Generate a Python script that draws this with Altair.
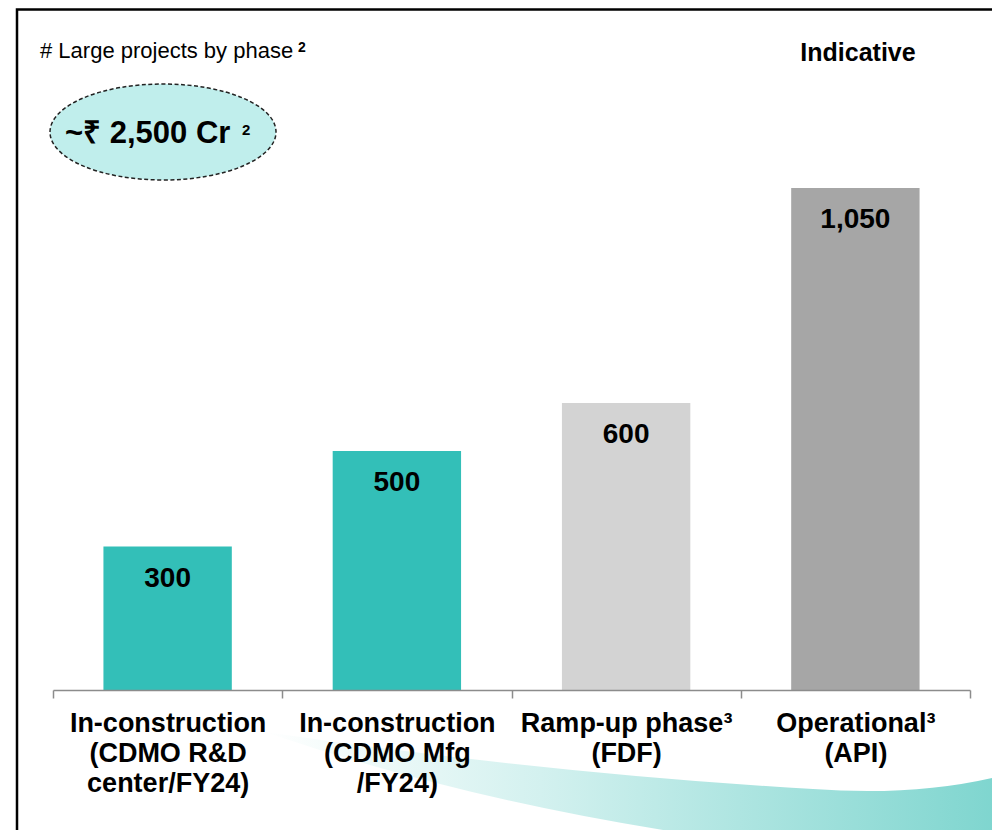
import altair as alt
import pandas as pd

categories = [
    "In-construction|(CDMO R&D|center/FY24)",
    "In-construction|(CDMO Mfg|/FY24)",
    "Ramp-up phase³|(FDF)",
    "Operational³|(API)",
]
values = [300, 500, 600, 1050]
bar_colors = ["#33bfb8", "#33bfb8", "#d3d3d3", "#a6a6a6"]

subtitle = "# Large projects by phase"
badge = "~₹ 2,500 Cr"
tag = "Indicative"

df = pd.DataFrame({"cat": categories, "val": values, "col": bar_colors})
one = pd.DataFrame({"k": [0]})

FONT = "Liberation Sans, Arial, sans-serif"

x_enc = alt.X(
    "cat:N",
    sort=categories,
    scale=alt.Scale(paddingInner=0, paddingOuter=0),
    axis=alt.Axis(
        title=None,
        labelExpr="split(datum.label, '|')",
        labelFont=FONT,
        labelFontSize=27,
        labelFontWeight="bold",
        labelColor="#000000",
        labelLineHeight=30,
        labelPadding=12,
        labelLimit=500,
        labelAngle=0,
        labelOverlap=False,
        domainColor="#8c8c8c",
        domainWidth=1.5,
        tickColor="#8c8c8c",
        tickWidth=1.5,
        tickSize=8,
        tickBand="extent",
        zindex=1,
    ),
)
y_enc = alt.Y("val:Q", scale=alt.Scale(domain=[0, 1100]), axis=None)

bars = alt.Chart(df).mark_bar(width=alt.RelativeBandSize(0.56)).encode(
    x=x_enc,
    y=y_enc,
    color=alt.Color("col:N", scale=None, legend=None),
)

labels = alt.Chart(df).mark_text(
    font=FONT, fontSize=28, fontWeight="bold", color="#000000", dy=40, baseline="alphabetic"
).encode(x=x_enc, y=y_enc, text=alt.Text("val:Q", format=","))

frame = alt.Chart(one).mark_rect(
    fill="transparent", stroke="#000000", strokeWidth=2.5
).encode(
    x=alt.value(-36), x2=alt.value(1000), y=alt.value(-154.5), y2=alt.value(720)
)

swoosh_path = (
    "M212,568 Q500,610 760,625 Q900,635 1000,595 L1000,720 L800,720 L800,690 "
    "Q480,660 212,568 Z"
)
swoosh = alt.Chart(one).mark_point(
    shape=swoosh_path,
    size=4,
    filled=True,
    opacity=1,
    strokeWidth=0,
    fill=alt.Gradient(
        gradient="linear",
        x1=0, y1=0, x2=1, y2=0,
        stops=[
            alt.GradientStop(offset=0, color="#ffffff"),
            alt.GradientStop(offset=0.35, color="#d3f1ef"),
            alt.GradientStop(offset=1, color="#74d2cb"),
        ],
    ),
).encode(x=alt.value(0), y=alt.value(0))

ellipse = alt.Chart(one).mark_point(
    shape="M-113,0 A113,48 0 1,1 113,0 A113,48 0 1,1 -113,0 Z",
    size=4,
    filled=True,
    fill="#c0eeec",
    stroke="#222222",
    strokeWidth=1.5,
    strokeDash=[4, 2.5],
    opacity=1,
).encode(x=alt.value(110), y=alt.value(-32))

badge_text = alt.Chart(one).mark_text(
    text=badge, font=FONT, fontSize=31, fontWeight="bold", color="#000000",
    align="left", baseline="alphabetic"
).encode(x=alt.value(12), y=alt.value(-21))

badge_sup = alt.Chart(one).mark_text(
    text="2", font=FONT, fontSize=15, fontWeight="bold", color="#000000",
    align="left", baseline="alphabetic"
).encode(x=alt.value(189), y=alt.value(-29))

sub_text = alt.Chart(one).mark_text(
    text=subtitle, font=FONT, fontSize=22, color="#000000",
    align="left", baseline="alphabetic"
).encode(x=alt.value(-13), y=alt.value(-106))

sub_sup = alt.Chart(one).mark_text(
    text="2", font=FONT, fontSize=14, fontWeight="bold", color="#000000",
    align="left", baseline="alphabetic"
).encode(x=alt.value(245), y=alt.value(-112))

tag_text = alt.Chart(one).mark_text(
    text=tag, font=FONT, fontSize=25, fontWeight="bold", color="#000000",
    align="center", baseline="alphabetic"
).encode(x=alt.value(805), y=alt.value(-103))

chart = alt.layer(
    frame, swoosh, ellipse, bars, labels, badge_text, badge_sup, sub_text, sub_sup, tag_text
).properties(
    width=917,
    height=526,
    background="#ffffff",
    autosize=alt.AutoSizeParams(type="none"),
    padding={"left": 45, "top": 156, "right": 22, "bottom": 140},
).configure_view(strokeWidth=0, stroke="transparent")

chart.save("out.html", embed_options={"renderer": "svg", "actions": False})
